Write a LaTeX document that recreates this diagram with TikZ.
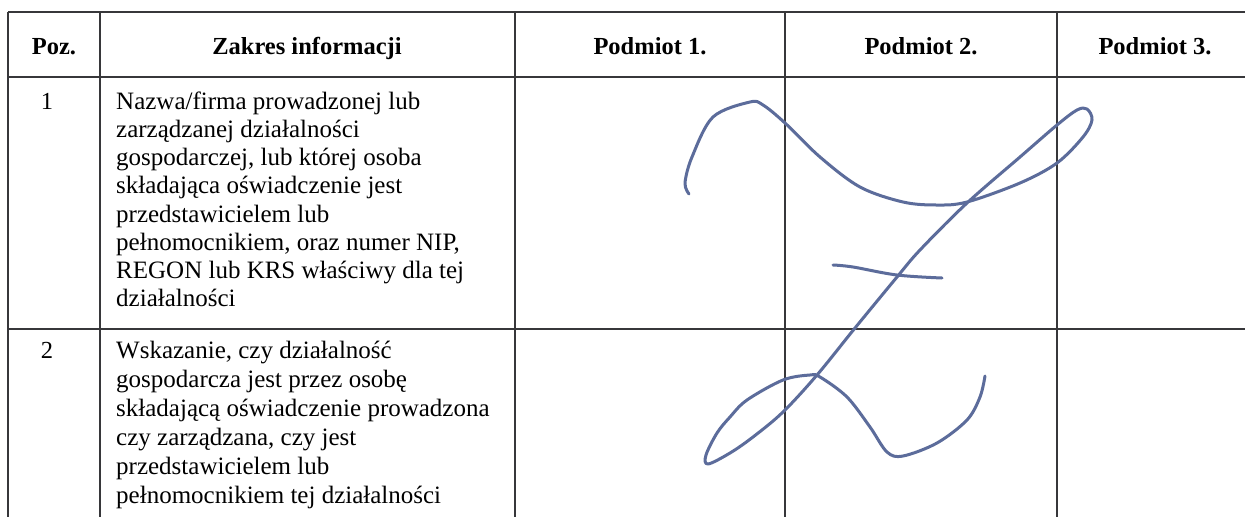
\documentclass[tikz,border=0pt]{standalone}
\usepackage{fontspec}
\setmainfont{Liberation Serif}
\usetikzlibrary{positioning}
\definecolor{rulegray}{RGB}{55,55,58}
\definecolor{inkblue}{RGB}{92,108,155}

\tikzset{
  rule/.style={draw=rulegray, line width=2pt},
  headtxt/.style={inner sep=0pt, anchor=base,
    font=\fontsize{24.5}{29}\selectfont\bfseries},
  numtxt/.style={inner sep=0pt, anchor=base,
    font=\fontsize{24.5}{29}\selectfont},
  bodytxt/.style={inner sep=0pt, anchor=north west, align=left,
    font=\fontsize{25}{#1}\selectfont},
  bodytxt/.default=29,
  ink/.style={draw=inkblue, line width=3pt, line cap=round, line join=round},
}

\begin{document}
\begin{tikzpicture}[x=1pt, y=-1pt]
   \useasboundingbox[fill=white] (0,0) rectangle (1245,517);

   % grid corners
   \coordinate (c0t) at (8,12);    \coordinate (c0b) at (8,517);
   \coordinate (c1t) at (100,12);  \coordinate (c1b) at (100,517);
   \coordinate (c2t) at (515,12);  \coordinate (c2b) at (515,517);
   \coordinate (c3t) at (785,12);  \coordinate (c3b) at (785,517);
   \coordinate (c4t) at (1057,12); \coordinate (c4b) at (1057,517);
   \coordinate (h0l) at (8,12);    \coordinate (h0r) at (1245,12);
   \coordinate (h1l) at (8,77);    \coordinate (h1r) at (1245,77);
   \coordinate (h2l) at (8,329);   \coordinate (h2r) at (1245,329);

   \draw[rule] (h0l) -- (h0r);
   \draw[rule] (h1l) -- (h1r);
   \draw[rule] (h2l) -- (h2r);
   \foreach \c in {0,...,4}
      \draw[rule] (c\c t) -- (c\c b);

   % header
   \node[headtxt] (poz)  at (54,54)   {Poz.};
   \node[headtxt] (zakr) at (307,54)  {Zakres informacji};
   \node[headtxt] (pod1) at (650,54)  {Podmiot 1.};
   \node[headtxt] (pod2) at (921,54)  {Podmiot 2.};
   \node[headtxt] (pod3) at (1155,54) {Podmiot 3.};

   % row 1 (strut top = baseline - 0.7*baselineskip)
   \node[numtxt] (n1) at (47,109) {1};
   \node[bodytxt=28.2] (t1) at (116,89.26) {\strut Nazwa/firma prowadzonej lub\\
      zarządzanej działalności\\
      gospodarczej, lub której osoba\\
      składająca oświadczenie jest\\
      przedstawicielem lub\\
      pełnomocnikiem, oraz numer NIP,\\
      REGON lub KRS właściwy dla tej\\
      działalności};

   % row 2
   \node[numtxt] (n2) at (47,358) {2};
   \node[bodytxt=29] (t2) at (116,337.7) {\strut Wskazanie, czy działalność\\
      gospodarcza jest przez osobę\\
      składającą oświadczenie prowadzona\\
      czy zarządzana, czy jest\\
      przedstawicielem lub\\
      pełnomocnikiem tej działalności};

   % signature
   \draw[ink] plot[smooth, tension=0.55] coordinates {
      (689,194) (685,183) (692,157) (713,117) (750,102) (763,105)
      (785,123) (820,157) (860,187) (903,202) (937,205) (967,202)
      (1020,183) (1057,163) (1083,137) (1092,120) (1087,109)
      (1077,110) (1057,125) (1020,157) (967,203) (920,250) (897,277)
      (855,328) (817,375) (783,412) (753,437) (730,453) (708,464)
      (706,455) (717,433) (730,417) (747,400) (783,380) (810,375)
      (820,377) (847,397) (870,427) (887,452) (903,456) (937,443)
      (967,420) (980,397) (985,376)};
   \draw[ink] plot[smooth, tension=0.6] coordinates {
      (833,265) (853,267) (897,275) (942,278)};
\end{tikzpicture}
\end{document}
